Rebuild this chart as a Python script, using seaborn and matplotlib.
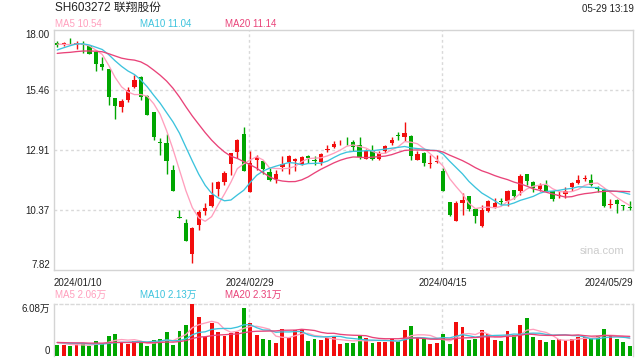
import numpy as np
import pandas as pd
import matplotlib
matplotlib.use('Agg')
import matplotlib.pyplot as plt
import seaborn as sns

# daily candles 2024/01/10 - 2024/05/29
opens = [17.44, 17.37, 17.39, 17.34, 17.38, 17.29, 17.05, 16.55, 16.35, 15.10,
         14.74, 15.03, 15.57, 15.98, 15.20, 14.51, 13.22, 13.19, 12.03, 10.05,
         9.80, 8.48, 9.73, 10.32, 10.51, 11.26, 11.54, 12.30, 12.81, 13.57,
         11.10, 12.49, 12.41, 11.96, 11.68, 12.16, 12.39, 12.42, 12.32, 12.66,
         12.49, 12.39, 12.89, 13.04, 13.22, 13.25, 13.24, 13.12, 12.53, 12.87,
         12.53, 12.84, 13.19, 13.51, 13.46, 13.50, 12.49, 12.77, 12.31, 12.39,
         12.02, 10.69, 9.90, 10.65, 10.93, 10.41, 9.66, 10.32, 10.48, 10.72,
         10.72, 11.19, 11.14, 11.88, 11.54, 11.25, 11.43, 11.14, 10.93, 11.04,
         11.31, 11.50, 11.66, 11.64, 11.28, 11.21, 10.55, 10.79, 10.55, 10.46]
highs = [17.53, 17.46, 17.65, 17.51, 17.53, 17.29, 17.05, 16.83, 16.35, 15.10,
         15.07, 15.55, 16.06, 16.02, 15.24, 14.51, 13.40, 13.57, 12.25, 10.37,
         9.98, 9.61, 10.37, 10.65, 11.54, 11.57, 11.99, 12.77, 13.36, 13.89,
         12.84, 12.70, 12.44, 12.13, 12.06, 12.66, 12.70, 12.56, 12.66, 12.70,
         12.66, 12.76, 13.10, 13.29, 13.32, 13.43, 13.31, 13.45, 12.95, 13.10,
         12.87, 13.12, 13.45, 13.65, 14.08, 13.55, 12.84, 12.81, 12.70, 12.70,
         12.13, 10.69, 10.75, 11.07, 10.93, 10.41, 10.55, 10.79, 10.86, 10.86,
         11.21, 11.21, 11.89, 11.89, 11.57, 11.50, 11.64, 11.17, 11.14, 11.31,
         11.54, 11.85, 11.85, 11.89, 11.36, 11.28, 10.83, 10.83, 10.58, 10.72]
lows = [17.25, 17.30, 17.33, 17.20, 17.01, 16.98, 16.23, 16.30, 14.79, 14.23,
        14.51, 14.93, 15.53, 15.03, 14.37, 13.33, 12.67, 11.88, 11.17, 10.01,
        9.05, 8.10, 9.52, 10.15, 10.48, 10.93, 11.43, 11.82, 12.56, 12.02,
        11.10, 12.06, 11.88, 11.60, 11.50, 12.02, 11.89, 11.99, 12.27, 12.35,
        12.25, 12.27, 12.81, 12.98, 13.10, 13.09, 12.87, 12.53, 12.50, 12.49,
        12.49, 12.77, 13.09, 13.34, 13.26, 12.49, 12.49, 12.20, 12.13, 12.34,
        11.17, 10.08, 9.87, 10.12, 10.32, 9.80, 9.62, 10.27, 10.44, 10.58,
        10.51, 10.82, 11.00, 11.43, 11.11, 11.14, 11.14, 10.72, 10.86, 10.86,
        11.17, 11.45, 11.57, 11.36, 11.11, 10.48, 10.44, 10.22, 10.37, 10.37]
closes = [17.34, 17.44, 17.36, 17.44, 17.35, 16.98, 16.56, 16.43, 15.13, 14.78,
          14.99, 15.46, 15.88, 15.14, 14.40, 13.43, 13.19, 12.44, 11.17, 10.02,
          9.05, 9.59, 10.27, 10.44, 11.00, 11.54, 11.91, 12.77, 13.32, 12.02,
          12.35, 12.60, 12.09, 11.64, 11.88, 12.32, 12.66, 12.53, 12.60, 12.56,
          12.41, 12.73, 12.94, 13.15, 13.24, 13.22, 13.01, 12.59, 12.84, 12.53,
          12.76, 13.07, 13.33, 13.49, 13.62, 12.63, 12.73, 12.34, 12.35, 12.43,
          11.17, 10.13, 10.65, 10.79, 10.41, 10.08, 10.37, 10.72, 10.65, 10.69,
          11.17, 10.96, 11.79, 11.60, 11.28, 11.40, 11.17, 10.83, 11.00, 11.17,
          11.50, 11.64, 11.68, 11.40, 11.26, 10.51, 10.62, 10.62, 10.53, 10.44]
# volume in 万 shares
volumes = [1.20, 1.20, 1.08, 1.32, 1.48, 1.08, 1.68, 1.40, 2.28, 2.52,
           1.60, 1.32, 1.68, 1.48, 1.08, 1.80, 2.00, 2.76, 1.20, 2.88,
           3.60, 6.08, 4.52, 2.20, 3.88, 2.76, 2.28, 2.68, 2.80, 5.60,
           3.88, 2.40, 1.92, 1.80, 1.48, 3.20, 2.20, 3.08, 3.00, 1.68,
           1.92, 1.80, 2.12, 2.28, 1.32, 1.48, 1.48, 2.28, 2.12, 1.48,
           1.60, 1.60, 2.00, 1.68, 3.00, 3.48, 2.12, 2.00, 1.32, 1.48,
           2.52, 1.32, 4.00, 3.40, 1.80, 1.92, 3.00, 2.60, 1.80, 1.68,
           2.88, 2.40, 3.60, 4.48, 2.20, 1.80, 1.60, 1.80, 2.00, 1.80,
           2.00, 2.20, 2.20, 2.12, 2.32, 3.12, 2.32, 1.92, 1.60, 1.08]
# closes / volumes before the first shown day (only feed the moving averages)
prev_closes = [16.90, 17.00, 16.80, 16.90, 16.90, 16.80, 16.86, 16.80, 16.70, 16.84,
               16.50, 16.50, 16.66, 17.30, 17.50, 17.50, 17.40, 17.30, 17.40]
prev_volumes = [1.5, 1.6, 1.4, 1.5, 1.7, 1.6, 1.5, 1.4, 1.6, 1.7,
                1.5, 1.6, 1.4, 1.5, 1.7, 1.8, 1.6, 1.5, 1.6]

date_labels = ['2024/01/10', '2024/02/29', '2024/04/15', '2024/05/29']
date_pos = [0, 30, 60, 89]
price_ticks = [7.82, 10.37, 12.91, 15.46, 18.00]
vol_ticks = [0, 6.08]
vol_tick_labels = ['0', '6.08万']
price_legend = ['MA5 10.54', 'MA10 11.04', 'MA20 11.14']
vol_legend = ['MA5 2.06万', 'MA10 2.13万', 'MA20 2.31万']

UP = '#f20d0d'
DOWN = '#00a600'
MA_COLORS = ['#ff9fbd', '#3cc3dd', '#e94379']
EDGE = '#d4d4d4'
GRID = '#d9d9d9'

sns.set_style('white')
plt.rcParams['font.family'] = ['Liberation Sans', 'Noto Sans CJK SC', 'DejaVu Sans']

n = len(closes)
df = pd.DataFrame({'i': np.arange(n), 'open': opens, 'high': highs,
                   'low': lows, 'close': closes, 'volume': volumes})
df['color'] = np.where(df['close'] >= df['open'], UP, DOWN)

all_close = pd.Series(prev_closes + closes)
all_vol = pd.Series(prev_volumes + volumes)
k = len(prev_closes)
for w in (5, 10, 20):
    df[f'ma{w}'] = all_close.rolling(w, min_periods=1).mean().iloc[k:].values
    df[f'vma{w}'] = all_vol.rolling(w, min_periods=1).mean().iloc[k:].values

fig = plt.figure(figsize=(6.4, 3.6), dpi=100)
ax = fig.add_axes([54 / 640, 1 - 269.7 / 360, 579 / 640, 240 / 360])
axv = fig.add_axes([54 / 640, 1 - 355.5 / 360, 579 / 640, 51.2 / 360])

# candles
body = (df['close'] - df['open']).abs().clip(lower=0.035)
bottom = df[['open', 'close']].min(axis=1)
ax.vlines(df['i'], df['low'], df['high'], colors=df['color'], lw=1, zorder=2)
ax.bar(df['i'], body, bottom=bottom, width=0.66, color=df['color'], lw=0, zorder=3)

for w, c in zip((5, 10, 20), MA_COLORS):
    sns.lineplot(data=df, x='i', y=f'ma{w}', ax=ax, color=c, lw=0.95, zorder=4)
    sns.lineplot(data=df, x='i', y=f'vma{w}', ax=axv, color=c, lw=0.95, zorder=4)

axv.bar(df['i'], df['volume'], width=0.6, color=df['color'], lw=0, zorder=3)

for a in (ax, axv):
    a.set_xlim(-0.5, n - 0.5)
    a.set_xlabel('')
    a.set_ylabel('')
    a.set_xticks([])
    for s in a.spines.values():
        s.set_color(EDGE)
        s.set_linewidth(1)
    for p in date_pos[1:3]:
        a.axvline(p - 0.25, color=GRID, lw=1, ls=(0, (2, 2)), zorder=1)
    a.tick_params(axis='y', length=0, pad=3, labelsize=7, labelcolor='#222222')

ax.set_ylim(price_ticks[0], price_ticks[-1])
ax.set_yticks(price_ticks)
ax.set_yticklabels([f'{t:.2f}' for t in price_ticks])
ylabs = ax.get_yticklabels()
ylabs[0].set_va('bottom')
ylabs[-1].set_va('top')
for t in price_ticks[1:-1]:
    ax.axhline(t, color=GRID, lw=1, ls=(0, (2, 2)), zorder=1)

axv.set_ylim(0, vol_ticks[-1])
axv.set_yticks(vol_ticks)
axv.set_yticklabels(vol_tick_labels)
vlabs = axv.get_yticklabels()
vlabs[0].set_va('bottom')
vlabs[-1].set_va('top')
axv.spines['top'].set_linestyle((0, (2, 2)))
axv.spines['top'].set_color(GRID)
axv.spines['bottom'].set_visible(False)

# date labels under the price panel
for lab, p in zip(date_labels, date_pos):
    ha = 'left' if p == 0 else ('right' if p == n - 1 else 'center')
    xx = -0.5 if p == 0 else (n - 0.5 if p == n - 1 else p)
    ax.text(xx, -0.035, lab, transform=ax.get_xaxis_transform(), ha=ha, va='top',
            fontsize=7, color='#222222')

# header and legends
fig.text(55 / 640, 1 - 7.5 / 360, 'SH603272 联翔股份', fontsize=8.5, color='#222222',
         ha='left', va='center')
fig.text(634 / 640, 1 - 8.5 / 360, '05-29 13:19', fontsize=7, color='#222222',
         ha='right', va='center')
for txt, c, x0 in zip(price_legend, MA_COLORS, (55, 140, 225)):
    fig.text(x0 / 640, 1 - 24 / 360, txt, fontsize=7, color=c, ha='left', va='center')
for txt, c, x0 in zip(vol_legend, MA_COLORS, (55, 140, 225)):
    fig.text(x0 / 640, 1 - 295 / 360, txt, fontsize=7, color=c, ha='left', va='center')

ax.text(0.985, 0.08, 'sina.com', transform=ax.transAxes, ha='right', va='center',
        fontsize=8, color='#cccccc')

fig.savefig('out.png', dpi=100)
